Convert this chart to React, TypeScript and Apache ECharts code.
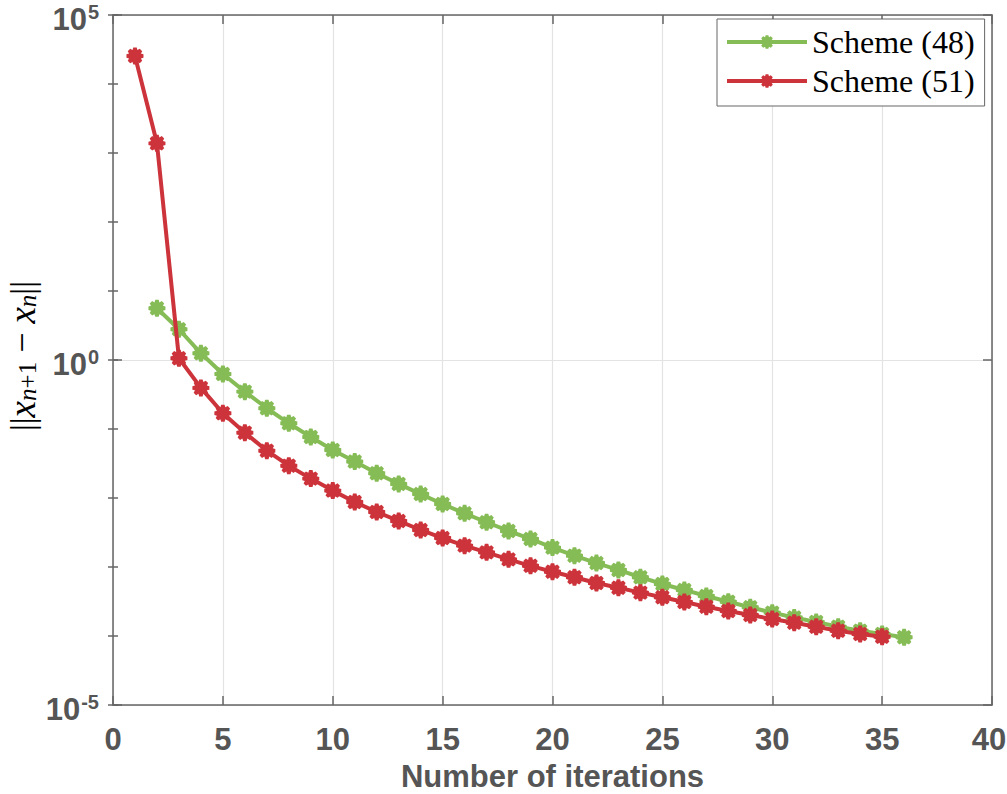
import React, { useEffect, useRef } from "react";
import * as echarts from "echarts";

const iterations48 = [2, 3, 4, 5, 6, 7, 8, 9, 10, 11, 12, 13, 14, 15, 16, 17, 18, 19, 20, 21, 22, 23, 24, 25, 26, 27, 28, 29, 30, 31, 32, 33, 34, 35, 36];
const scheme48 = [5.61, 2.79, 1.25, 0.627, 0.348, 0.2, 0.121, 0.0766, 0.0497, 0.0337, 0.0228, 0.016, 0.0114, 0.00818, 0.006, 0.00445, 0.00333, 0.00255, 0.00191, 0.00146, 0.00114, 9.06e-4, 7.1e-4, 5.68e-4, 4.65e-4, 3.8e-4, 3.14e-4, 2.61e-4, 2.18e-4, 1.85e-4, 1.6e-4, 1.36e-4, 1.19e-4, 1.07e-4, 9.57e-5];

const iterations51 = [1, 2, 3, 4, 5, 6, 7, 8, 9, 10, 11, 12, 13, 14, 15, 16, 17, 18, 19, 20, 21, 22, 23, 24, 25, 26, 27, 28, 29, 30, 31, 32, 33, 34, 35];
const scheme51 = [25500, 1380, 1.06, 0.394, 0.169, 0.0885, 0.0485, 0.0294, 0.0191, 0.0128, 0.00875, 0.00627, 0.00465, 0.00344, 0.00263, 0.00204, 0.00163, 0.00129, 0.00104, 8.55e-4, 7.1e-4, 5.86e-4, 5.01e-4, 4.25e-4, 3.64e-4, 3.11e-4, 2.66e-4, 2.3e-4, 2.01e-4, 1.76e-4, 1.56e-4, 1.36e-4, 1.19e-4, 1.07e-4, 9.77e-5];

const seriesNames = ["Scheme (48)", "Scheme (51)"];
const xAxisTitle = "Number of iterations";

const GREEN = "#86bc56";
const RED = "#cc333a";
const AXIS = "#666666";
const TEXT = "#555555";

function gearSymbol(): string {
  const pts: string[] = [];
  for (let k = 0; k < 8; k++) {
    const t = (k * Math.PI) / 4;
    const a = 0.2;
    pts.push(`${(50 + 50 * Math.cos(t - a)).toFixed(2)},${(50 + 50 * Math.sin(t - a)).toFixed(2)}`);
    pts.push(`${(50 + 50 * Math.cos(t + a)).toFixed(2)},${(50 + 50 * Math.sin(t + a)).toFixed(2)}`);
    const v = t + Math.PI / 8;
    pts.push(`${(50 + 37 * Math.cos(v)).toFixed(2)},${(50 + 37 * Math.sin(v)).toFixed(2)}`);
  }
  return "path://M" + pts.join("L") + "Z";
}

export default function App() {
  const ref = useRef<HTMLDivElement>(null);
  useEffect(() => {
    document.body.style.margin = "0";
    const chart = echarts.init(ref.current!, null, { renderer: "svg" });
    const sym = gearSymbol();
    const labelRich = {
      b: { fontSize: 31, fontWeight: "bold", color: TEXT, fontFamily: "Liberation Sans", lineHeight: 26, padding: [8, 0, 0, 0] },
      s: { fontSize: 20, fontWeight: "bold", color: TEXT, fontFamily: "Liberation Sans", verticalAlign: "top", lineHeight: 18, padding: [0, 0, 0, 1] },
    };
    const xLabelFont = { fontSize: 31, fontWeight: "bold", color: TEXT, fontFamily: "Liberation Sans" };
    const serifStyle = { fontFamily: "Liberation Serif", color: "#222222" };
    const option: any = {
      animation: false,
      backgroundColor: "#ffffff",
      grid: { left: 113, right: 15, top: 15, bottom: 89, outerBoundsMode: "none", containLabel: false },
      legend: {
        orient: "vertical",
        left: 717,
        top: 19,
        padding: [7, 10, 9, 8],
        itemGap: 7,
        itemWidth: 80,
        itemHeight: 17,
        backgroundColor: "#ffffff",
        borderColor: "#666666",
        borderWidth: 1,
        borderRadius: 0,
        lineStyle: { width: 4 },
        textStyle: { fontFamily: "Liberation Serif", fontSize: 32, color: "#000000", lineHeight: 32 },
        data: seriesNames,
      },
      graphic: [
        {
          type: "text",
          x: 22,
          y: 356,
          rotation: Math.PI / 2,
          style: {
            text: "{n|||}{i|x}{s|n}{u|+1}{m| − }{i|x}{s|n}{n|||}",
            align: "center",
            verticalAlign: "middle",
            rich: {
              n: { ...serifStyle, fontSize: 34, lineHeight: 36 },
              m: { ...serifStyle, fontSize: 36, lineHeight: 36 },
              i: { ...serifStyle, fontStyle: "italic", fontSize: 37, lineHeight: 36 },
              s: { ...serifStyle, fontStyle: "italic", fontSize: 25, verticalAlign: "bottom", lineHeight: 14 },
              u: { ...serifStyle, fontSize: 25, verticalAlign: "bottom", lineHeight: 14 },
            },
          },
        },
      ],
      xAxis: [
        {
          type: "value",
          min: 0,
          max: 40,
          interval: 5,
          position: "bottom",
          name: xAxisTitle,
          nameLocation: "middle",
          nameGap: 56,
          nameTextStyle: { fontSize: 31, fontWeight: "bold", color: TEXT, fontFamily: "Liberation Sans" },
          axisLine: { show: true, onZero: false, lineStyle: { color: AXIS, width: 1.5 } },
          axisTick: { show: true, inside: true, length: 9, lineStyle: { color: AXIS, width: 1.5 } },
          axisLabel: {
            ...xLabelFont,
            margin: 19,
            formatter: (v: number) => (v === 40 ? `{e|${v}}` : `${v}`),
            rich: { e: { ...xLabelFont, padding: [0, 6, 0, 0] } },
          },
          splitLine: { show: true, lineStyle: { color: "#e3e3e3", width: 1.2 } },
        },
        {
          type: "value",
          min: 0,
          max: 40,
          interval: 5,
          position: "top",
          axisLine: { show: true, onZero: false, lineStyle: { color: AXIS, width: 1.5 } },
          axisTick: { show: true, inside: true, length: 9, lineStyle: { color: AXIS, width: 1.5 } },
          axisLabel: { show: false },
          splitLine: { show: false },
        },
      ],
      yAxis: [
        {
          type: "log",
          logBase: 10,
          min: 1e-5,
          max: 1e5,
          position: "left",
          axisLine: { show: true, onZero: false, lineStyle: { color: AXIS, width: 1.5 } },
          axisTick: { show: true, inside: true, length: 9, lineStyle: { color: AXIS, width: 1.5 } },
          axisLabel: {
            margin: 14,
            formatter: (v: number) => `{b|10}{s|${Math.round(Math.log10(v))}}`,
            rich: labelRich,
          },
          splitLine: { show: true, lineStyle: { color: "#e3e3e3", width: 1.2 } },
        },
        {
          type: "value",
          min: -5,
          max: 5,
          interval: 1,
          position: "left",
          axisLine: { show: false },
          axisTick: { show: true, inside: true, length: 5, lineStyle: { color: AXIS, width: 1.5 } },
          axisLabel: { show: false },
          splitLine: { show: false },
        },
        {
          type: "log",
          logBase: 10,
          min: 1e-5,
          max: 1e5,
          position: "right",
          axisLine: { show: true, onZero: false, lineStyle: { color: AXIS, width: 1.5 } },
          axisTick: { show: true, inside: true, length: 9, lineStyle: { color: AXIS, width: 1.5 } },
          axisLabel: { show: false },
          splitLine: { show: false },
        },
        {
          type: "value",
          min: -5,
          max: 5,
          interval: 1,
          position: "right",
          axisLine: { show: false },
          axisTick: { show: true, inside: true, length: 5, lineStyle: { color: AXIS, width: 1.5 } },
          axisLabel: { show: false },
          splitLine: { show: false },
        },
      ],
      series: [
        {
          name: seriesNames[0],
          type: "line",
          xAxisIndex: 0,
          yAxisIndex: 0,
          data: iterations48.map((x, i) => [x, scheme48[i]]),
          symbol: sym,
          symbolSize: 17,
          showSymbol: true,
          lineStyle: { color: GREEN, width: 4 },
          itemStyle: { color: GREEN },
          z: 3,
        },
        {
          name: seriesNames[1],
          type: "line",
          xAxisIndex: 0,
          yAxisIndex: 0,
          data: iterations51.map((x, i) => [x, scheme51[i]]),
          symbol: sym,
          symbolSize: 17,
          showSymbol: true,
          lineStyle: { color: RED, width: 4 },
          itemStyle: { color: RED },
          z: 4,
        },
      ],
    };
    chart.setOption(option);
    return () => chart.dispose();
  }, []);
  return <div ref={ref} style={{ width: 1007, height: 794 }} />;
}
